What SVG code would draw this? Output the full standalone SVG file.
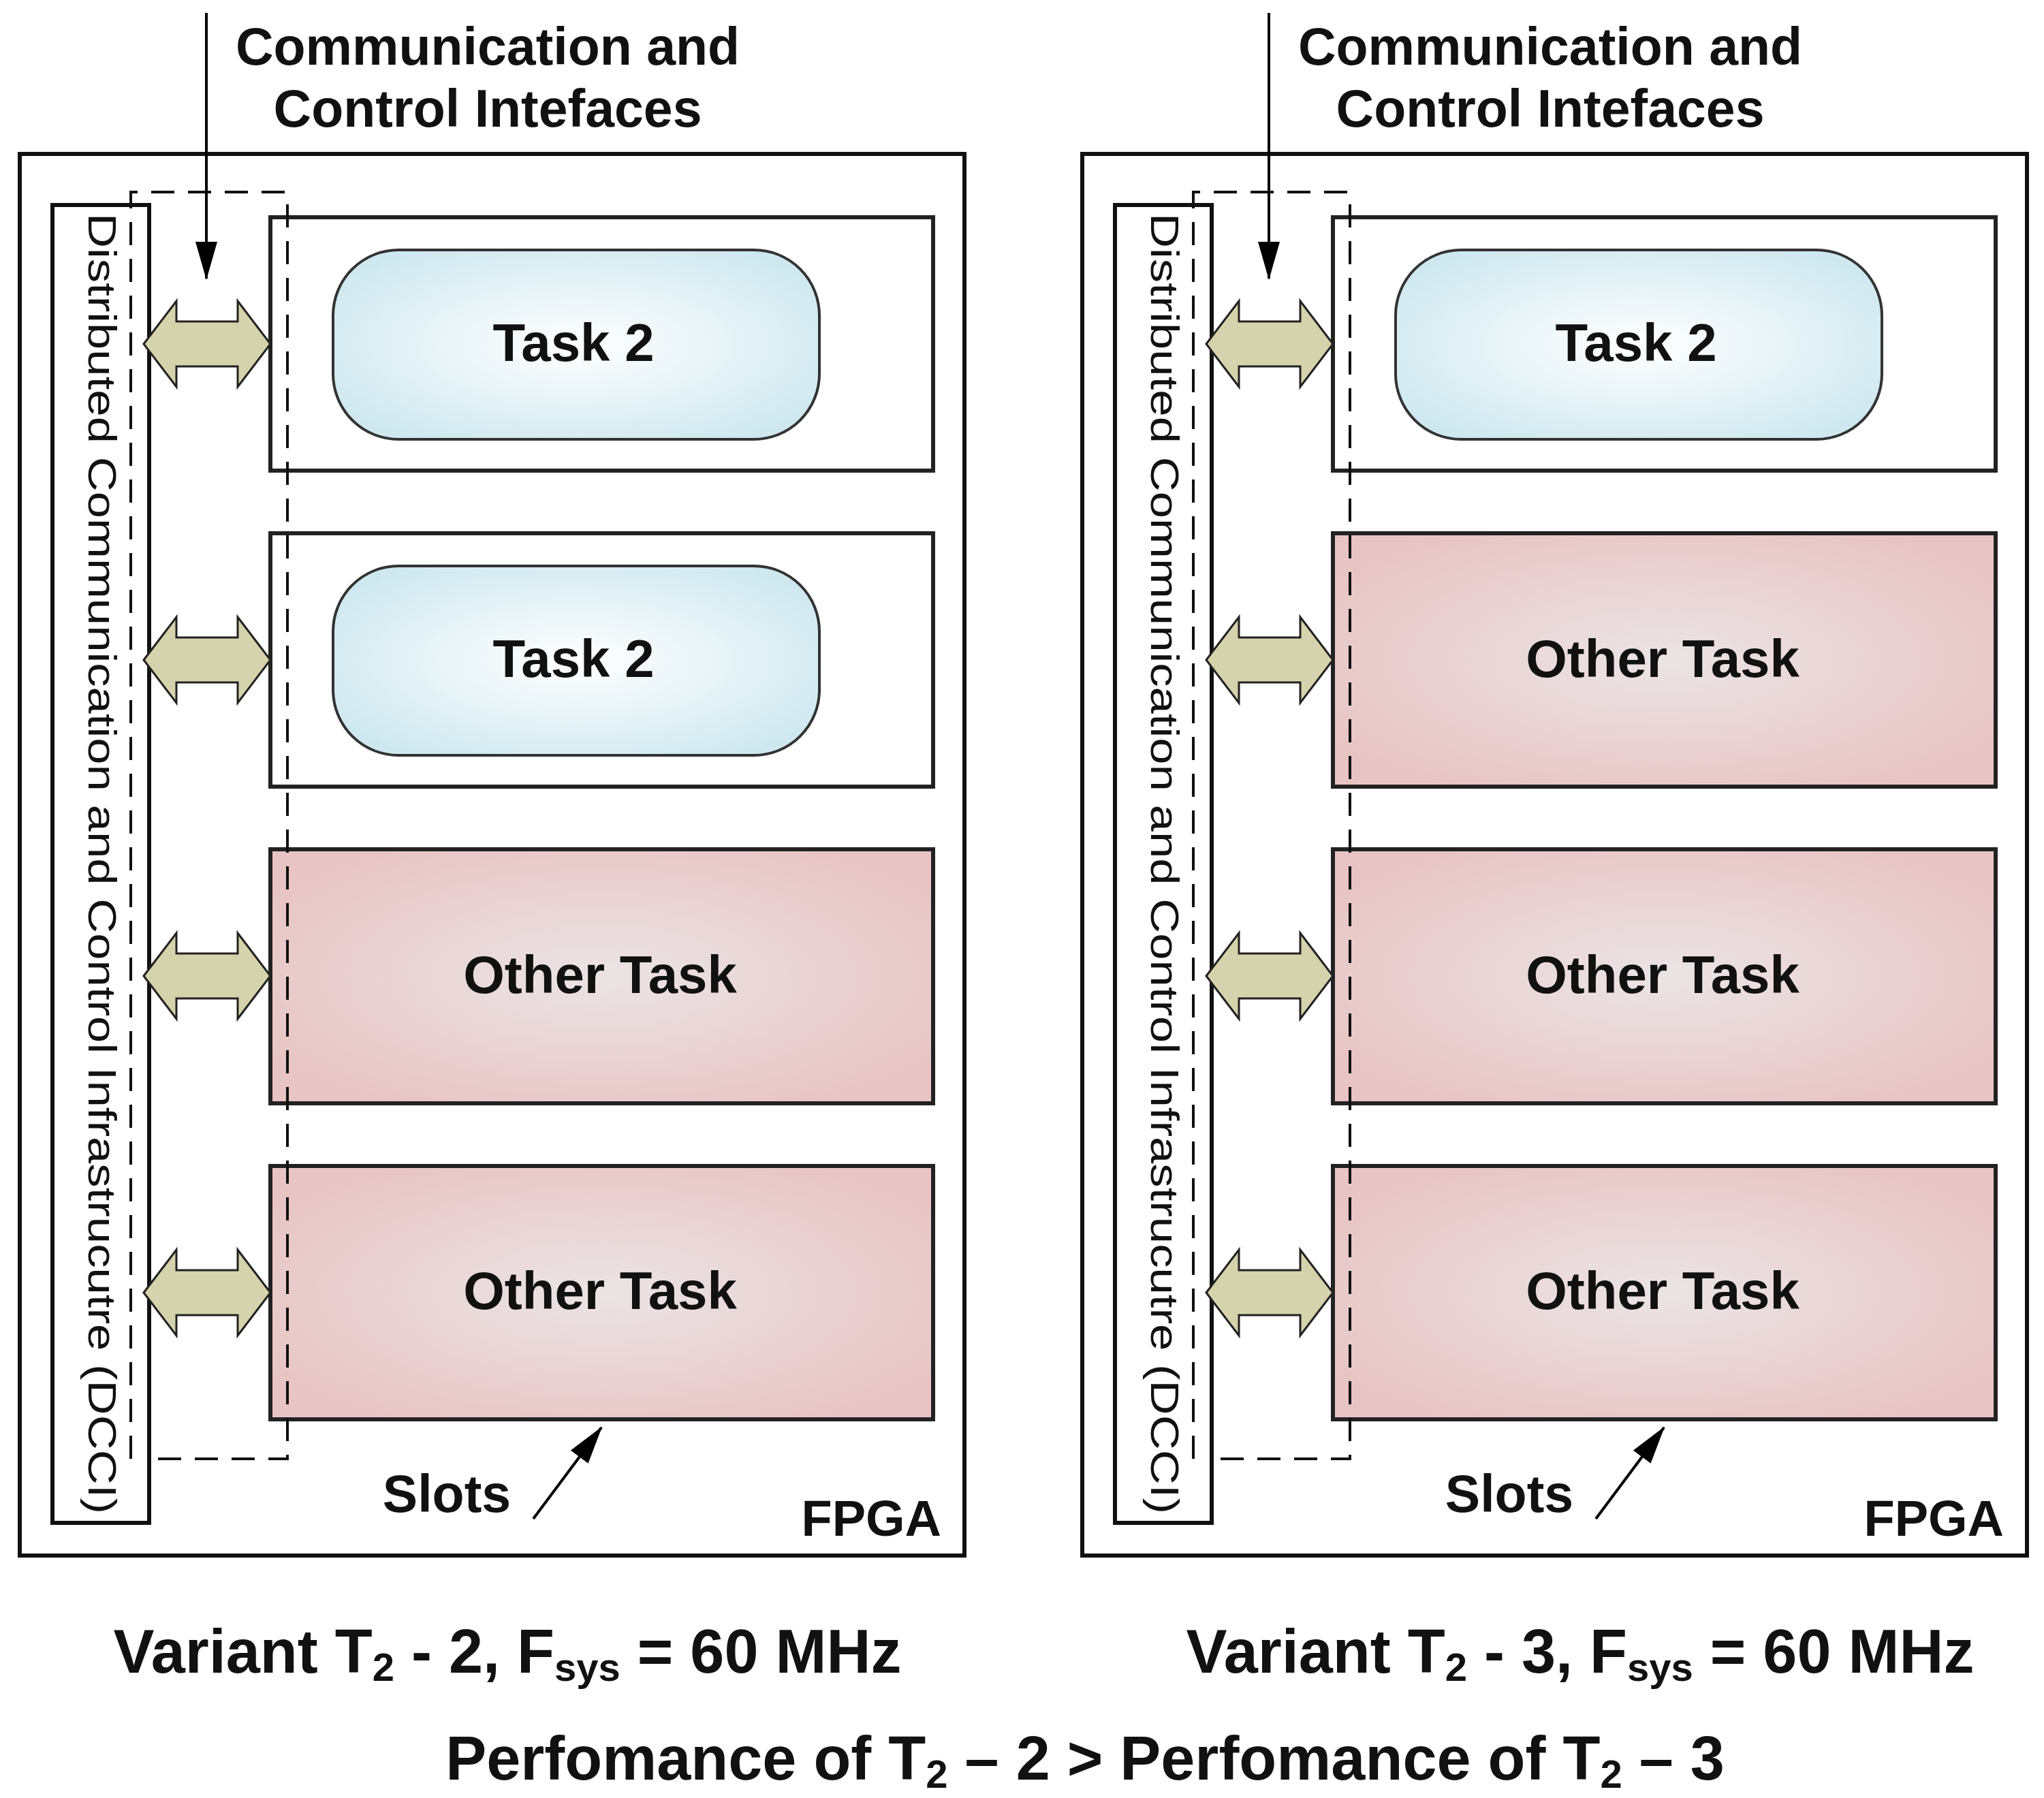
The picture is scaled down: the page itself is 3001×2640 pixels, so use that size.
<svg xmlns="http://www.w3.org/2000/svg" width="3001" height="2640" viewBox="0 0 3001 2640">
<defs>
<radialGradient id="gb" cx="0.5" cy="0.5" r="0.6"><stop offset="0" stop-color="#ffffff"/><stop offset="1" stop-color="#cfe8f0"/></radialGradient>
<radialGradient id="gp" cx="0.5" cy="0.5" r="0.6"><stop offset="0" stop-color="#ebe4e5"/><stop offset="1" stop-color="#e8c4c4"/></radialGradient>
<marker id="ah" markerWidth="56" markerHeight="32" refX="54" refY="16" orient="auto" markerUnits="userSpaceOnUse" viewBox="0 0 56 32"><path d="M0,0L56,16L0,32z" fill="#000"/></marker>
<path id="dar" d="M0,0 L48,-63 L48,-33 L138,-33 L138,-63 L186,0 L138,63 L138,33 L48,33 L48,63 Z"/>
</defs>
<style>
text{font-family:"Liberation Sans",Arial,sans-serif;font-weight:bold;fill:#111}
.box{fill:#fff;stroke:#111;stroke-width:6}
.slot{fill:#fff;stroke:#222;stroke-width:6}
.other{fill:url(#gp);stroke:#222;stroke-width:6}
.task{fill:url(#gb);stroke:#333;stroke-width:4}
.dash{fill:none;stroke:#111;stroke-width:4;stroke-dasharray:34,20}
.dar{fill:#d4d3ac;stroke:#222;stroke-width:3}
.t{font-size:78px;text-anchor:middle}
.h{font-size:77px;text-anchor:middle}
.v{font-size:90px;text-anchor:middle}
</style>
<g id="left">
<rect class="box" x="29" y="226" width="1387" height="2058"/>
<rect class="box" x="77" y="301" width="142" height="1935"/>
<text x="0" y="0" font-size="58" style="font-weight:normal" transform="translate(130,313) rotate(90)" textLength="1910" lengthAdjust="spacingAndGlyphs">Distributed Communication and Control Infrastrucutre (DCCI)</text>
<rect class="slot" x="397" y="319" width="973" height="372"/>
<rect class="task" x="489" y="367" width="714" height="278" rx="96"/>
<text class="t" x="842" y="530">Task 2</text>
<rect class="slot" x="397" y="783" width="973" height="372"/>
<rect class="task" x="489" y="831" width="714" height="278" rx="96"/>
<text class="t" x="842" y="994">Task 2</text>
<rect class="other" x="397" y="1247" width="973" height="373"/>
<text class="t" x="881" y="1458">Other Task</text>
<rect class="other" x="397" y="1712" width="973" height="372"/>
<text class="t" x="881" y="1922">Other Task</text>
<path class="dash" d="M192,2142 V282 H422 M422,300 V2142 H215"/>
<text class="h" x="716" y="95">Communication and</text>
<text class="h" x="716" y="186">Control Intefaces</text>
<text class="h" x="656" y="2220">Slots</text>
<text x="1382" y="2255" font-size="74" text-anchor="end">FPGA</text>
</g>
<g id="right" transform="translate(1560,0)">
<rect class="box" x="29" y="226" width="1387" height="2058"/>
<rect class="box" x="77" y="301" width="142" height="1935"/>
<text x="0" y="0" font-size="58" style="font-weight:normal" transform="translate(130,313) rotate(90)" textLength="1910" lengthAdjust="spacingAndGlyphs">Distributed Communication and Control Infrastrucutre (DCCI)</text>
<rect class="slot" x="397" y="319" width="973" height="372"/>
<rect class="task" x="489" y="367" width="714" height="278" rx="96"/>
<text class="t" x="842" y="530">Task 2</text>
<rect class="other" x="397" y="783" width="973" height="372"/>
<text class="t" x="881" y="994">Other Task</text>
<rect class="other" x="397" y="1247" width="973" height="373"/>
<text class="t" x="881" y="1458">Other Task</text>
<rect class="other" x="397" y="1712" width="973" height="372"/>
<text class="t" x="881" y="1922">Other Task</text>
<path class="dash" d="M192,2142 V282 H422 M422,300 V2142 H215"/>
<text class="h" x="716" y="95">Communication and</text>
<text class="h" x="716" y="186">Control Intefaces</text>
<text class="h" x="656" y="2220">Slots</text>
<text x="1382" y="2255" font-size="74" text-anchor="end">FPGA</text>
</g>
<g id="connectors">
<g stroke="#000" stroke-width="4" fill="none" marker-end="url(#ah)">
<line x1="303" y1="19" x2="303" y2="409"/>
<line x1="1863" y1="19" x2="1863" y2="409"/>
<line x1="783" y1="2230" x2="883" y2="2096"/>
<line x1="2343" y1="2230" x2="2443" y2="2096"/>
</g>
<g class="dar">
<use href="#dar" x="211" y="505"/><use href="#dar" x="211" y="969"/><use href="#dar" x="211" y="1433"/><use href="#dar" x="211" y="1898"/>
<use href="#dar" x="1771" y="505"/><use href="#dar" x="1771" y="969"/><use href="#dar" x="1771" y="1433"/><use href="#dar" x="1771" y="1898"/>
</g>
</g>
<g id="captions">
<text class="v" x="745" y="2456">Variant T<tspan font-size="58" dy="12">2</tspan><tspan dy="-12"> - 2, F</tspan><tspan font-size="58" dy="12">sys</tspan><tspan dy="-12"> = 60 MHz</tspan></text>
<text class="v" x="2320" y="2456">Variant T<tspan font-size="58" dy="12">2</tspan><tspan dy="-12"> - 3, F</tspan><tspan font-size="58" dy="12">sys</tspan><tspan dy="-12"> = 60 MHz</tspan></text>
<text class="v" x="1593" y="2613">Perfomance of T<tspan font-size="58" dy="12">2</tspan><tspan dy="-12"> – 2 &gt; Perfomance of T</tspan><tspan font-size="58" dy="12">2</tspan><tspan dy="-12"> – 3</tspan></text>
</g>
</svg>
